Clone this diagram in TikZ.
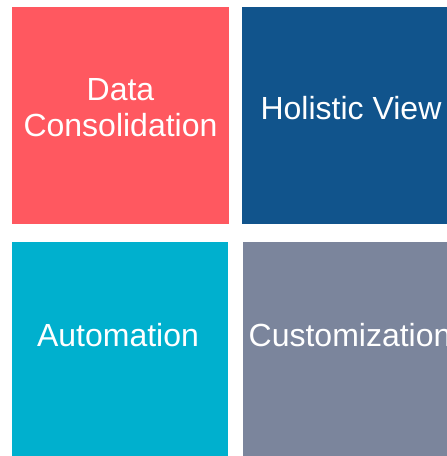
\documentclass[tikz,border=0pt]{standalone}
\usepackage{fontspec}
\setmainfont{Liberation Sans}
\definecolor{tileRed}{RGB}{255,88,96}
\definecolor{tileBlue}{RGB}{17,84,140}
\definecolor{tileCyan}{RGB}{0,176,206}
\definecolor{tileGray}{RGB}{123,133,156}
\begin{document}
\begin{tikzpicture}[x=1pt,y=-1pt,
  tile/.style={draw=none},
  label/.style={text=white,font=\fontsize{32}{36}\selectfont,inner sep=0pt}]
\useasboundingbox (0,0) rectangle (447,456);
\clip (0,0) rectangle (447,456);
\fill[tileRed]  (12,7) rectangle (229,224);
\fill[tileBlue] (242,7) rectangle (460,224);
\fill[tileCyan] (12,242) rectangle (228,460);
\fill[tileGray] (243,242) rectangle (460,460);
\node[label,anchor=base] (data) at (120.5,100) {Data};
\node[label,anchor=base] (cons) at (120.5,136) {Consolidation};
\node[label,anchor=base] (hol) at (351,119) {Holistic View};
\node[label,anchor=base] (auto) at (118,346) {Automation};
\node[label,anchor=base west] (cust) at (248.5,346) {Customization};
\end{tikzpicture}
\end{document}
